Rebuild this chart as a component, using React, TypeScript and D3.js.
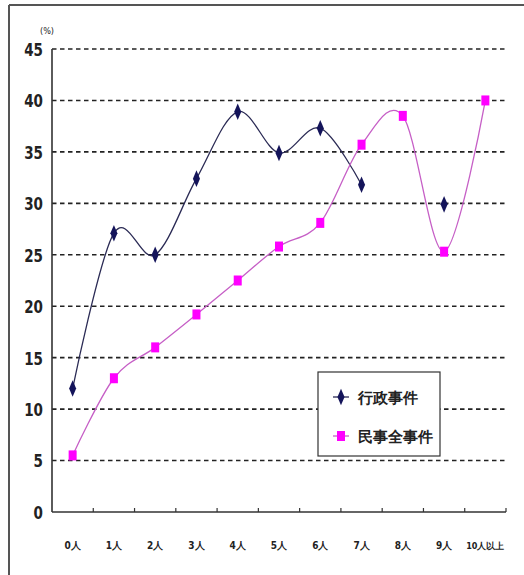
import React from "react";
import * as d3 from "d3";

const categories = ["0人", "1人", "2人", "3人", "4人", "5人", "6人", "7人", "8人", "9人", "10人以上"];
const seriesNames = ["行政事件", "民事全事件"];
const adminValues: (number | null)[] = [12, 27.1, 25, 32.4, 38.9, 34.9, 37.3, 31.8, null, 29.9, null];
const civilValues: (number | null)[] = [5.5, 13, 16, 19.2, 22.5, 25.8, 28.1, 35.7, 38.5, 25.3, 40];
const yTicks = [0, 5, 10, 15, 20, 25, 30, 35, 40, 45];
const unitLabel = "(%)";

const W = 524;
const H = 575;
const left = 52;
const right = 506;
const top = 49;
const bottom = 512;
const font = "'DejaVu Sans Condensed', 'DejaVu Sans', sans-serif";

export default function App() {
  const x = d3.scaleBand<string>().domain(categories).range([left, right]);
  const y = d3.scaleLinear().domain([0, 45]).range([bottom, top]);
  const cx = (i: number) => (x(categories[i]) as number) + x.bandwidth() / 2;

  const mkSegments = (vals: (number | null)[]) => {
    const segs: [number, number][][] = [];
    let cur: [number, number][] = [];
    vals.forEach((v, i) => {
      if (v == null) {
        if (cur.length) segs.push(cur);
        cur = [];
      } else cur.push([cx(i), y(v)]);
    });
    if (cur.length) segs.push(cur);
    return segs;
  };
  const line = d3.line<[number, number]>().curve(d3.curveCardinal.tension(0));
  const adminSegs = mkSegments(adminValues).filter((s) => s.length > 1);
  const civilSegs = mkSegments(civilValues).filter((s) => s.length > 1);
  const diamond = d3.symbol().type(d3.symbolDiamond).size(60)() as string;

  const navyLine = "#2b2b55";
  const navyMark = "#14145a";
  const pinkLine = "#c65fc6";
  const pinkMark = "#ff00ff";

  return (
    <svg width={W} height={H} style={{ position: "absolute", left: 0, top: 0, background: "#fff" }}>
      <rect x={0} y={0} width={W} height={H} fill="#fff" />
      <line x1={9} y1={5} x2={W} y2={5} stroke="#555" strokeWidth={2} />
      <line x1={9} y1={5} x2={9} y2={H} stroke="#555" strokeWidth={2} />

      {yTicks.filter((t) => t > 0).map((t) => (
        <line key={t} x1={left} x2={right} y1={y(t)} y2={y(t)} stroke="#222" strokeWidth={1.6} strokeDasharray="4.5,3.5" />
      ))}
      <line x1={left} x2={left} y1={top} y2={bottom} stroke="#333" strokeWidth={1.6} />
      <line x1={left} x2={right} y1={bottom} y2={bottom} stroke="#333" strokeWidth={1.6} />
      {categories.map((c) => (
        <line key={c} x1={(x(c) as number) + x.bandwidth()} x2={(x(c) as number) + x.bandwidth()} y1={bottom} y2={bottom - 4} stroke="#333" strokeWidth={1.2} />
      ))}
      {yTicks.map((t) => (
        <text key={t} x={43} y={y(t) + 6} textAnchor="end" fontFamily={font} fontWeight="bold" fontSize={15} fill="#222" transform={`translate(0,${-y(t) * 0.15}) scale(1,1.15)`}>
          {t}
        </text>
      ))}
      <text x={40} y={34} fontFamily={font} fontSize={9} fill="#222">{unitLabel}</text>
      {categories.map((c, i) => (
        <text key={c} x={cx(i)} y={549} textAnchor="middle" fontFamily={font} fontWeight="bold" fontSize={i === 10 ? 9 : 10} fill="#222">
          {c}
        </text>
      ))}

      {adminSegs.map((s, k) => (
        <path key={"a" + k} d={line(s) as string} fill="none" stroke={navyLine} strokeWidth={1.3} />
      ))}
      {civilSegs.map((s, k) => (
        <path key={"c" + k} d={line(s) as string} fill="none" stroke={pinkLine} strokeWidth={1.3} />
      ))}
      {civilValues.map((v, i) =>
        v == null ? null : (
          <rect key={"cm" + i} x={cx(i) - 4} y={y(v) - 5} width={8} height={10} fill={pinkMark} />
        )
      )}
      {adminValues.map((v, i) =>
        v == null ? null : (
          <path key={"am" + i} d={diamond} transform={`translate(${cx(i)},${y(v)}) scale(0.85,1.15)`} fill={navyMark} />
        )
      )}

      <rect x={318} y={372} width={122} height={84} fill="#fff" stroke="#333" strokeWidth={1.2} />
      <line x1={333} x2={349} y1={397} y2={397} stroke={navyLine} strokeWidth={1.3} />
      <path d={diamond} transform={`translate(341,397) scale(0.85,1.15)`} fill={navyMark} />
      <text x={358} y={403} fontFamily={font} fontWeight="bold" fontSize={15} fill="#222">{seriesNames[0]}</text>
      <line x1={333} x2={349} y1={436} y2={436} stroke={pinkLine} strokeWidth={1.3} />
      <rect x={337} y={431} width={8} height={10} fill={pinkMark} />
      <text x={358} y={442} fontFamily={font} fontWeight="bold" fontSize={15} fill="#222">{seriesNames[1]}</text>
    </svg>
  );
}
